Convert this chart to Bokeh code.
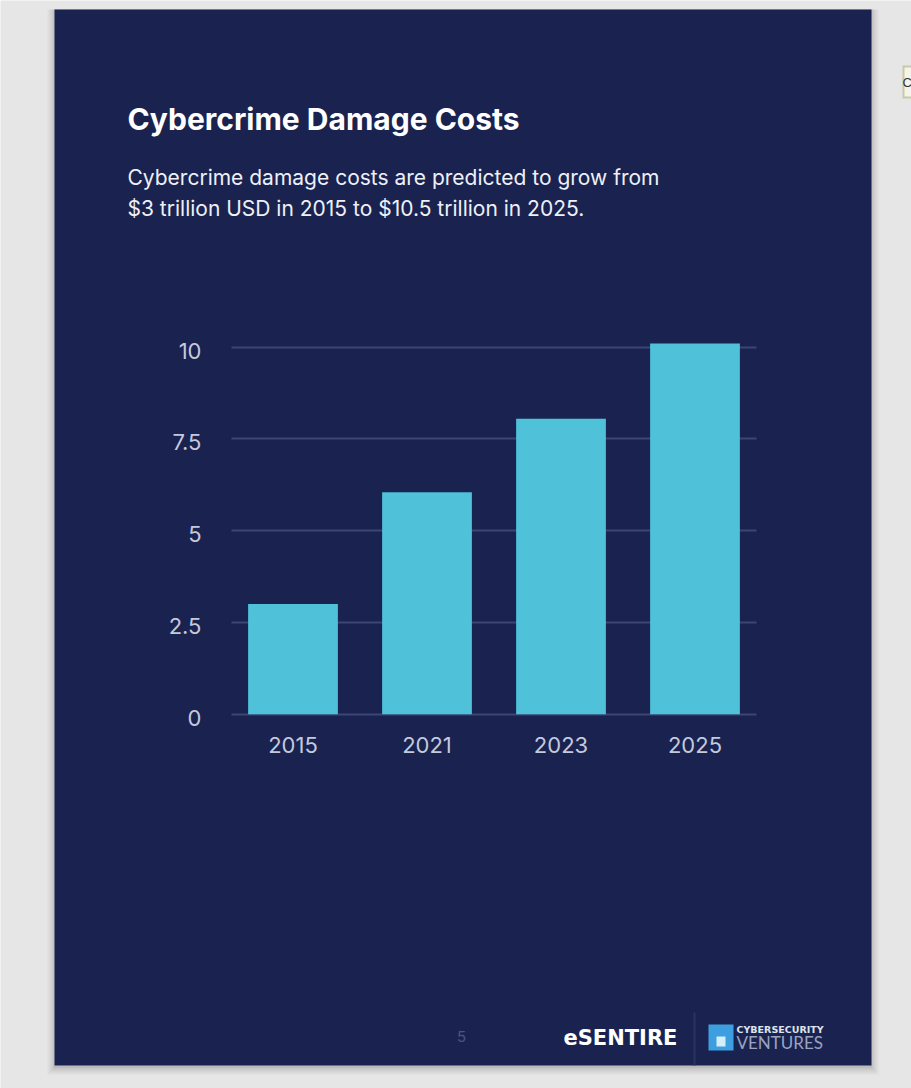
from bokeh.embed import file_html
from bokeh.models import BoxAnnotation, FixedTicker, Label, LinearAxis, Range1d
from bokeh.plotting import figure
from bokeh.resources import INLINE

# Chart values
years = ["2015", "2021", "2023", "2025"]
damage_costs = [3.0, 6.05, 8.05, 10.1]
value_ticks = [0, 2.5, 5, 7.5, 10]
value_tick_labels = ["0", "2.5", "5", "7.5", "10"]

title_text = "Cybercrime Damage Costs"
subtitle_lines = [
    "Cybercrime damage costs are predicted to grow from",
    "$3 trillion USD in 2015 to $10.5 trillion in 2025.",
]

NAVY = "#1a2350"
GREY = "#e6e6e6"
CYAN = "#4fc1d9"
RULE = "#3b4674"
SOFT = "#c3c9de"
FONT = "Inter"
W, H = 911, 1088

# The frame fills the window; these scales put the chart in its place on the page.
PX_PER_UNIT_Y, ZERO_PX = 36.7, 713.7
PX_PER_BAR, FIRST_BAR_PX = 134.0, 292.5
RULE_LEFT_PX, RULE_RIGHT_PX = 231, 756
LABEL_DROP = 3.5 / PX_PER_UNIT_Y


def x_data(px):
    return (px - FIRST_BAR_PX) / PX_PER_BAR


Y_START = (ZERO_PX - H) / PX_PER_UNIT_Y
Y_END = ZERO_PX / PX_PER_UNIT_Y

xs = list(range(len(years)))
p = figure(
    width=W, height=H, output_backend="svg", toolbar_location=None,
    x_range=Range1d(x_data(0), x_data(W)), y_range=Range1d(Y_START, Y_END),
    min_border=0, border_fill_color=GREY, background_fill_color=GREY,
    outline_line_color=None, x_axis_location=None, y_axis_location=None,
)


def box(left, right, top, bottom, color, alpha=1.0):
    p.add_layout(BoxAnnotation(
        left=left, right=right, top=H - top, bottom=H - bottom,
        left_units="screen", right_units="screen",
        top_units="screen", bottom_units="screen",
        fill_color=color, fill_alpha=alpha, line_color=None, level="image",
    ))


def label(x, y, text, size, color="#ffffff", font=FONT, style="normal", align="left"):
    p.add_layout(Label(
        x=x, y=H - y, x_units="screen", y_units="screen", text=text,
        text_font=font, text_font_size=f"{size}px", text_font_style=style,
        text_color=color, text_align=align, text_baseline="middle",
    ))


# Soft shadow around the page, then the page itself
for grow, a in ((7, 0.05), (5, 0.06), (3, 0.08), (1, 0.12)):
    box(54 - grow, 871 + grow, 9, 1065 + grow + 2, "#555555", a)
box(54, 871, 9, 1065, NAVY)

# Bars and rules
p.vbar(x=xs, top=damage_costs, width=0.67, bottom=0, fill_color=CYAN, line_color=None)

p.xgrid.visible = False
p.ygrid.ticker = FixedTicker(ticks=value_ticks)
p.ygrid.grid_line_color = RULE
p.ygrid.grid_line_width = 2
p.ygrid.cross_bounds = (x_data(RULE_LEFT_PX), x_data(RULE_RIGHT_PX))

# Value labels hang slightly under their rules, so their axis runs on a shifted range
p.extra_y_ranges = {"labels": Range1d(Y_START + LABEL_DROP, Y_END + LABEL_DROP)}
yaxis = LinearAxis(y_range_name="labels", fixed_location=x_data(231))
xaxis = LinearAxis(fixed_location=0)
p.add_layout(yaxis, "left")
p.add_layout(xaxis, "below")

xaxis.ticker = FixedTicker(ticks=xs)
xaxis.major_label_overrides = dict(zip(xs, years))
yaxis.ticker = FixedTicker(ticks=value_ticks)
yaxis.major_label_overrides = dict(zip(value_ticks, value_tick_labels))
for ax in (xaxis, yaxis):
    ax.axis_line_color = None
    ax.major_tick_line_color = None
    ax.minor_tick_line_color = None
    ax.major_label_text_color = SOFT
    ax.major_label_text_font = FONT
    ax.major_label_text_font_size = "22px"
xaxis.major_label_standoff = 17
yaxis.major_label_standoff = 24

# Heading
label(127, 118, title_text, 30, style="bold")
label(127, 177, subtitle_lines[0], 21, color="#eef0f6")
label(127, 208, subtitle_lines[1], 21, color="#eef0f6")

# Footer
label(461, 1036, "5", 15, color="#4a5580", align="center")
label(563, 1037, "eSENTIRE", 21, font="DejaVu Sans", style="bold")
box(693, 695, 1012, 1065, "#2a3460")
box(708, 733, 1024, 1050, "#3d9fe0")
box(716, 725, 1036, 1046, "#d5effa")
label(736, 1029, "CYBERSECURITY", 9.5, color="#dfe3ee", font="DejaVu Sans", style="bold")
label(736, 1042, "VENTURES", 17, color="#9aa3c0", font="Lato")

# Fragment of the neighbouring window at the right edge
box(902, 911, 65, 98, "#c9c9a8")
box(904, 911, 67, 96, "#f4f4ea")
label(902, 82, "C", 13, color="#333333", font="Liberation Sans")

open("out.html", "w").write(file_html(p, INLINE))
